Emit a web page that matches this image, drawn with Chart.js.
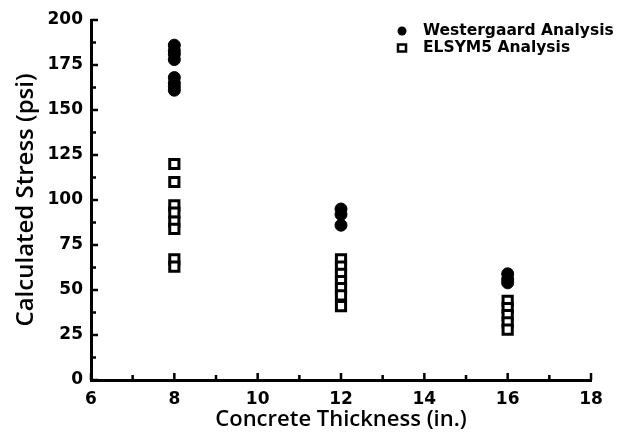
<!DOCTYPE html>
<html>
<head>
<meta charset="utf-8">
<script src="https://cdn.jsdelivr.net/npm/chart.js@4"></script>
<style>
  html, body { margin: 0; padding: 0; background: #fff; }
  #wrap { width: 635px; height: 448px; }
</style>
</head>
<body>
<div id="wrap"><canvas id="chart"></canvas></div>
<script>
// concrete thickness (in.) for each group of points
const thickness = [8, 12, 16];
// calculated stress (psi), one list per thickness
const westergaard = [
    [186, 183, 181, 178, 168, 165, 163, 161],
    [95, 92, 86],
    [59, 56, 54]
];
const elsym5 = [
    [120, 110, 97, 93, 88, 84, 67, 63],
    [67, 63, 59, 55, 51, 47, 41],
    [44, 40, 36, 32, 28]
];
const seriesNames = ['Westergaard Analysis', 'ELSYM5 Analysis'];
const yTicks = [0, 25, 50, 75, 100, 125, 150, 175, 200];
const xTicks = [6, 8, 10, 12, 14, 16, 18];

const TICK_FONT = 'DejaVu Sans';
const TITLE_FONT = 'Open Sans';

function toPoints(groups) {
    const pts = [];
    groups.forEach((g, i) => g.forEach(v => pts.push({ x: thickness[i], y: v })));
    return pts;
}

// little inward tick marks, like the original plot
const innerTicks = {
    id: 'innerTicks',
    afterDraw(chart) {
        const ctx = chart.ctx;
        const xs = chart.scales.x, ys = chart.scales.y;
        ctx.save();
        ctx.strokeStyle = '#000';
        ctx.lineWidth = 2.5;
        ctx.beginPath();
        for (let v = yTicks[0]; v <= yTicks[yTicks.length - 1]; v += 12.5) {
            const py = ys.getPixelForValue(v);
            const len = v % 25 === 0 ? 7 : 5;
            ctx.moveTo(xs.left, py);
            ctx.lineTo(xs.left + len, py);
        }
        for (let v = xTicks[0]; v <= xTicks[xTicks.length - 1]; v += 1) {
            const px = xs.getPixelForValue(v);
            const len = v % 2 === 0 ? 7 : 5;
            ctx.moveTo(px, ys.bottom);
            ctx.lineTo(px, ys.bottom - len);
        }
        ctx.stroke();
        ctx.restore();
    }
};

// legend in the top right corner
const cornerLegend = {
    id: 'cornerLegend',
    afterDraw(chart) {
        const ctx = chart.ctx;
        ctx.save();
        ctx.font = 'bold 15.5px ' + TICK_FONT;
        ctx.textBaseline = 'middle';
        ctx.fillStyle = '#000';
        const x0 = 402, rows = [31, 48];
        chart.data.datasets.forEach((ds, i) => {
            const y = rows[i];
            if (i === 0) {
                ctx.beginPath();
                ctx.arc(x0, y, 4.5, 0, Math.PI * 2);
                ctx.fill();
            } else {
                ctx.lineWidth = 2.5;
                ctx.strokeStyle = '#000';
                ctx.strokeRect(x0 - 4, y - 3.5, 8, 7);
            }
            ctx.fillText(ds.label, 423, y);
        });
        ctx.restore();
    }
};

const ctx = document.getElementById('chart').getContext('2d');
new Chart(ctx, {
    type: 'scatter',
    data: {
        datasets: [
            {
                label: seriesNames[0],
                data: toPoints(westergaard),
                pointStyle: 'circle',
                pointRadius: 6,
                backgroundColor: '#000',
                borderColor: '#000',
                borderWidth: 1
            },
            {
                label: seriesNames[1],
                data: toPoints(elsym5),
                pointStyle: 'rect',
                pointRadius: 6.5,
                backgroundColor: '#fff',
                borderColor: '#000',
                borderWidth: 3
            }
        ]
    },
    options: {
        responsive: true,
        maintainAspectRatio: false,
        animation: false,
        layout: { padding: { top: 20, right: 44, bottom: 0, left: 0 } },
        plugins: {
            legend: { display: false },
            tooltip: { enabled: false }
        },
        scales: {
            x: {
                type: 'linear',
                min: 6,
                max: 18,
                afterBuildTicks: s => { s.ticks = xTicks.map(v => ({ value: v })); },
                afterFit: s => { s.height = 68; },
                grid: { display: false, drawTicks: false },
                border: { color: '#000', width: 3 },
                ticks: { color: '#000', padding: 9, font: { family: TICK_FONT, size: 17, weight: 'bold' } },
                title: {
                    display: true,
                    text: 'Concrete Thickness (in.)',
                    color: '#000',
                    font: { family: TITLE_FONT, size: 22, weight: '600' },
                    padding: { bottom: 15 }
                }
            },
            y: {
                min: 0,
                max: 200,
                afterBuildTicks: s => { s.ticks = yTicks.map(v => ({ value: v })); },
                afterFit: s => { s.width = 91; },
                grid: { display: false, drawTicks: false },
                border: { color: '#000', width: 3 },
                ticks: { color: '#000', padding: 8, font: { family: TICK_FONT, size: 17, weight: 'bold' } },
                title: {
                    display: true,
                    text: 'Calculated Stress (psi)',
                    color: '#000',
                    font: { family: TITLE_FONT, size: 24, weight: '600' },
                    padding: { top: 12 }
                }
            }
        }
    },
    plugins: [innerTicks, cornerLegend]
});
</script>
</body>
</html>
